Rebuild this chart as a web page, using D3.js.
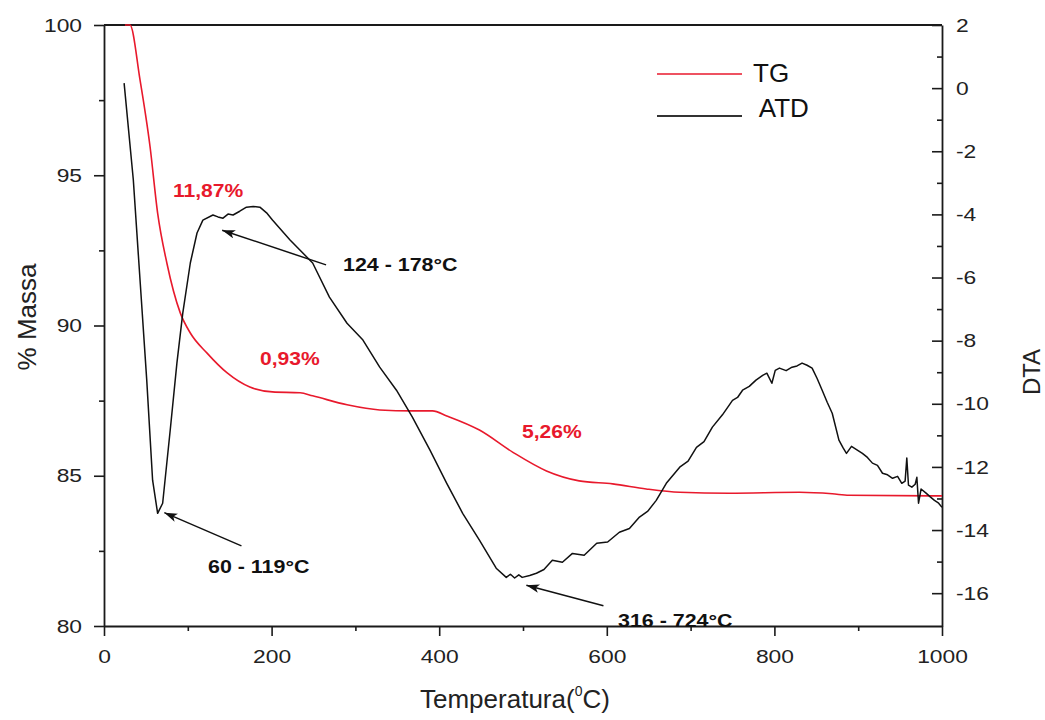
<!DOCTYPE html>
<html>
<head>
<meta charset="utf-8">
<script src="https://cdn.jsdelivr.net/npm/d3@7"></script>
<style>
  html, body { margin: 0; padding: 0; background: #fff; }
  svg { display: block; font-family: "Liberation Sans", Arial, sans-serif; }
</style>
</head>
<body>
<svg id="chart" width="1045" height="720"></svg>
<script>
// ---------------- data ----------------
const tgTemp = [25, 31, 43, 55, 64, 75, 91, 103, 123, 147, 174, 201, 234, 249, 290, 329, 368, 392, 409, 448, 488, 528, 567, 607, 647, 687, 746, 830, 869, 889, 988, 1000];
const tgMass = [100, 100, 98.17, 95.94, 93.74, 92.08, 90.42, 89.75, 89.08, 88.42, 87.95, 87.79, 87.76, 87.66, 87.36, 87.19, 87.16, 87.16, 86.99, 86.52, 85.78, 85.16, 84.83, 84.73, 84.56, 84.45, 84.42, 84.45, 84.40, 84.35, 84.33, 84.33];

const dtaTemp = [24, 35, 43, 51, 58, 64, 70, 79, 87, 94, 103, 111, 118, 130, 136, 142, 148, 154, 162, 170, 178, 186, 194, 201, 222, 249, 269, 290, 309, 329, 349, 368, 389, 409, 428, 448, 468, 480, 485, 490, 495, 499, 508, 516, 525, 535, 547, 559, 573, 588, 601, 615, 627, 639, 649, 659, 671, 687, 697, 707, 716, 726, 738, 750, 756, 762, 770, 778, 786, 791, 797, 801, 806, 814, 821, 827, 833, 839, 845, 851, 857, 863, 869, 877, 882, 886, 892, 898, 905, 911, 917, 923, 929, 935, 941, 947, 952, 956, 958, 960, 964, 968, 970, 972, 975, 981, 986, 991, 996, 1000];
const dtaValue = [0.16, -2.91, -6.08, -9.25, -12.42, -13.47, -13.15, -10.84, -8.71, -7.13, -5.54, -4.59, -4.18, -4.02, -4.08, -4.12, -3.99, -4.02, -3.90, -3.77, -3.75, -3.77, -3.95, -4.18, -4.81, -5.54, -6.62, -7.45, -7.98, -8.84, -9.57, -10.42, -11.47, -12.52, -13.47, -14.32, -15.21, -15.50, -15.40, -15.52, -15.42, -15.50, -15.44, -15.37, -15.25, -14.96, -15.02, -14.74, -14.80, -14.42, -14.38, -14.07, -13.95, -13.59, -13.40, -13.06, -12.52, -12.01, -11.82, -11.38, -11.20, -10.74, -10.35, -9.89, -9.80, -9.57, -9.45, -9.25, -9.10, -9.03, -9.35, -8.94, -8.87, -8.95, -8.84, -8.80, -8.71, -8.78, -8.87, -9.20, -9.57, -9.95, -10.30, -11.15, -11.40, -11.57, -11.35, -11.45, -11.57, -11.70, -11.88, -11.95, -12.20, -12.25, -12.36, -12.30, -12.52, -12.45, -11.72, -12.58, -12.64, -12.55, -12.33, -13.15, -12.70, -12.83, -12.95, -13.06, -13.15, -13.28];

const xMajorTicks = [0, 200, 400, 600, 800, 1000];
const xMinorTicks = [100, 300, 500, 700, 900];
const yLeftMajorTicks = [80, 85, 90, 95, 100];
const yLeftMinorTicks = [82.5, 87.5, 92.5, 97.5];
const yRightMajorTicks = [2, 0, -2, -4, -6, -8, -10, -12, -14, -16];
const yRightMinorTicks = [1, -1, -3, -5, -7, -9, -11, -13, -15];

const seriesNames = ["TG", " ATD"];
const seriesColors = ["#e8192c", "#111111"];

const pctLabels = ["11,87%", "0,93%", "5,26%"];
const pctLabelPos = [[173, 197], [260, 365], [522, 438]];   // [x px, baseline px]
const rangeLabels = ["124 - 178°C", "60 - 119°C", "316 - 724°C"];
const rangeLabelPos = [[343, 271], [208, 573], [618, 627]];
// arrows: [tail T, tail DTA] -> [tip T, tip DTA]
const arrowTails = [[265, -5.6], [164, -14.5], [596, -16.4]];
const arrowTips = [[141, -4.5], [72, -13.45], [504, -15.75]];

// ---------------- drawing ----------------
const svg = d3.select("#chart");
const x = d3.scaleLinear().domain([0, 1000]).range([104, 942]);
const yL = d3.scaleLinear().domain([80, 100]).range([626, 25]);
const yR = d3.scaleLinear().domain([-17.04, 2]).range([626, 25]);

const axisColor = "#1a1a1a";
const stretch = (sel, k) => sel.each(function () {
  const w = this.getComputedTextLength();
  d3.select(this).attr("textLength", w * k).attr("lengthAdjust", "spacingAndGlyphs");
});

function styleAxis(g) {
  g.selectAll("path.domain").attr("stroke", axisColor).attr("stroke-width", 1.8);
  g.selectAll(".tick line").attr("stroke", axisColor).attr("stroke-width", 1.6);
  g.selectAll(".tick text").attr("fill", "#222").style("font-size", "19px")
    .style("font-family", '"Liberation Sans", Arial, sans-serif');
}

// bottom axis
const gx = svg.append("g").attr("transform", "translate(0,626)")
  .call(d3.axisBottom(x).tickValues(xMajorTicks).tickSize(10).tickSizeOuter(0).tickPadding(14).tickFormat(d3.format("d")));
styleAxis(gx);
stretch(gx.selectAll(".tick text"), 1.2);
const gxm = svg.append("g").attr("transform", "translate(0,626)")
  .call(d3.axisBottom(x).tickValues(xMinorTicks).tickSize(5).tickFormat(""));
gxm.select("path.domain").remove();
styleAxis(gxm);

// left axis
const gl = svg.append("g").attr("transform", "translate(104,0)")
  .call(d3.axisLeft(yL).tickValues(yLeftMajorTicks).tickSize(10).tickSizeOuter(0).tickPadding(12).tickFormat(d3.format("d")));
styleAxis(gl);
stretch(gl.selectAll(".tick text"), 1.2);
const glm = svg.append("g").attr("transform", "translate(104,0)")
  .call(d3.axisLeft(yL).tickValues(yLeftMinorTicks).tickSize(5).tickFormat(""));
glm.select("path.domain").remove();
styleAxis(glm);

// right axis (ticks inward)
const gr = svg.append("g").attr("transform", "translate(942,0)")
  .call(d3.axisRight(yR).tickValues(yRightMajorTicks).tickSizeInner(-10).tickSizeOuter(0).tickPadding(14).tickFormat(d => String(d)));
styleAxis(gr);
stretch(gr.selectAll(".tick text"), 1.2);
const grm = svg.append("g").attr("transform", "translate(942,0)")
  .call(d3.axisRight(yR).tickValues(yRightMinorTicks).tickSizeInner(-5).tickFormat(""));
grm.select("path.domain").remove();
styleAxis(grm);

// top frame line
svg.append("line").attr("x1", x(0)).attr("x2", x(1000)).attr("y1", yL(100)).attr("y2", yL(100))
  .attr("stroke", axisColor).attr("stroke-width", 1.8);

// clip
svg.append("clipPath").attr("id", "plot").append("rect")
  .attr("x", x(0)).attr("y", yL(100) - 1).attr("width", x(1000) - x(0)).attr("height", yL(80) - yL(100) + 2);

// curves
const tgLine = d3.line().x((d, i) => x(tgTemp[i])).y(d => yL(d)).curve(d3.curveMonotoneX);
svg.append("path").datum(tgMass).attr("d", tgLine).attr("fill", "none")
  .attr("stroke", seriesColors[0]).attr("stroke-width", 1.6).attr("clip-path", "url(#plot)");

const dtaLine = d3.line().x((d, i) => x(dtaTemp[i])).y(d => yR(d)).curve(d3.curveLinear);
svg.append("path").datum(dtaValue).attr("d", dtaLine).attr("fill", "none")
  .attr("stroke", seriesColors[1]).attr("stroke-width", 1.5).attr("stroke-linejoin", "round").attr("clip-path", "url(#plot)");

// legend
const legY = [74, 116];
const legTextY = [82, 117];
const legTextX = [753, 753];
seriesNames.forEach((name, i) => {
  svg.append("line").attr("x1", 657).attr("x2", 742).attr("y1", legY[i]).attr("y2", legY[i])
    .attr("stroke", i === 0 ? seriesColors[0] : "#333").attr("stroke-width", i === 0 ? 1.6 : 2.2);
  svg.append("text").attr("x", legTextX[i]).attr("y", legTextY[i]).attr("fill", "#111")
    .style("font-size", "26px").style("white-space", "pre").attr("xml:space", "preserve").text(name);
});

// arrows
const defs = svg.append("defs");
defs.append("marker").attr("id", "ah").attr("viewBox", "0 0 12 8").attr("refX", 12).attr("refY", 4)
  .attr("markerWidth", 13).attr("markerHeight", 9).attr("markerUnits", "userSpaceOnUse").attr("orient", "auto")
  .append("path").attr("d", "M0,0 L12,4 L0,8 L3,4 Z").attr("fill", "#111");
arrowTails.forEach((t, i) => {
  svg.append("line").attr("x1", x(t[0])).attr("y1", yR(t[1]))
    .attr("x2", x(arrowTips[i][0])).attr("y2", yR(arrowTips[i][1]))
    .attr("stroke", "#111").attr("stroke-width", 1.5).attr("marker-end", "url(#ah)");
});

// annotation texts
pctLabels.forEach((t, i) => {
  const tx = svg.append("text").attr("x", pctLabelPos[i][0]).attr("y", pctLabelPos[i][1])
    .attr("fill", "#e8192c").style("font-size", "18px").style("font-weight", "bold").text(t);
  stretch(tx, 1.17);
});
rangeLabels.forEach((t, i) => {
  const tx = svg.append("text").attr("x", rangeLabelPos[i][0]).attr("y", rangeLabelPos[i][1])
    .attr("fill", "#111").style("font-size", "18px").style("font-weight", "bold").text(t);
  stretch(tx, 1.19);
});

// axis titles
const xt = svg.append("text").attr("x", 420).attr("y", 708).attr("fill", "#222").style("font-size", "26px");
xt.append("tspan").text("Temperatura(");
xt.append("tspan").attr("dy", -12).style("font-size", "14px").text("0");
xt.append("tspan").attr("dy", 12).text("C)");

svg.append("text").attr("transform", "translate(36,317) rotate(-90)").attr("text-anchor", "middle")
  .attr("fill", "#222").style("font-size", "26px").text("% Massa");
svg.append("text").attr("transform", "translate(1040,372) rotate(-90)").attr("text-anchor", "middle")
  .attr("fill", "#222").style("font-size", "24px").text("DTA");
</script>
</body>
</html>
